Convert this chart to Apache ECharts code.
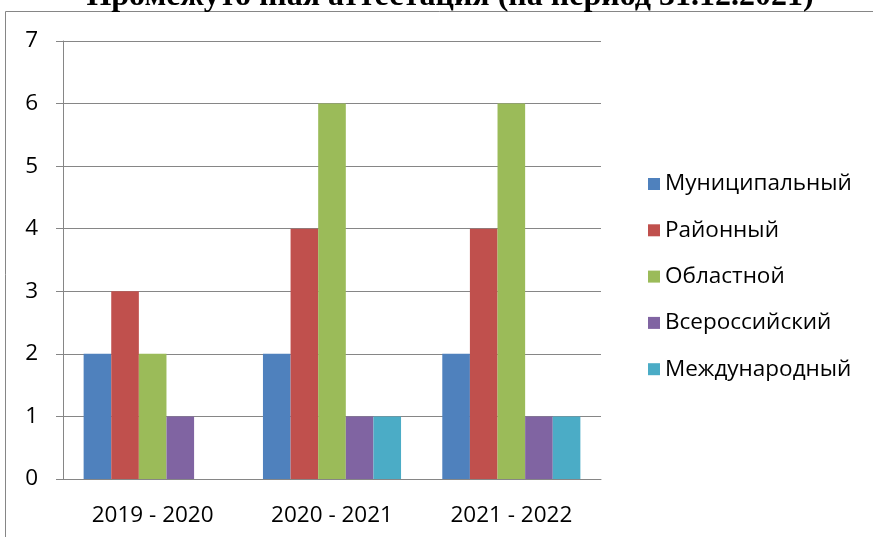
<!DOCTYPE html>
<html>
<head>
<meta charset="utf-8">
<script src="https://cdn.jsdelivr.net/npm/echarts@6/dist/echarts.min.js"></script>
<style>
  html, body { margin: 0; padding: 0; background: #fff; }
  #chart { width: 873px; height: 537px; }
</style>
</head>
<body>
<div id="chart"></div>
<script>
// данные диаграммы
const categories = ["2019 - 2020", "2020 - 2021", "2021 - 2022"];
const municipal = [2, 2, 2];
const district = [3, 4, 4];
const regional = [2, 6, 6];
const allRussian = [1, 1, 1];
const international = [null, 1, 1];
const seriesNames = ["Муниципальный", "Районный", "Областной", "Всероссийский", "Международный"];
const colors = ["#4F81BD", "#C0504D", "#9BBB59", "#8064A2", "#4BACC6"];

const chart = echarts.init(document.getElementById("chart"));
const gray = "#868686";
const font = "'Open Sans', 'Noto Sans', sans-serif";

const values = [municipal, district, regional, allRussian, international];

chart.setOption({
  animation: false,
  title: {
    text: "Промежуточная аттестация (на период 31.12.2021)",
    left: 445,
    textAlign: "center",
    top: -24,
    textStyle: { fontFamily: "'Liberation Serif', serif", fontSize: 32, fontWeight: "bold", color: "#000" }
  },
  graphic: [{
    type: "rect",
    shape: { x: 5.5, y: 11.5, width: 1000, height: 1000 },
    style: { fill: null, stroke: gray, lineWidth: 1 },
    silent: true
  }],
  legend: {
    orient: "vertical",
    left: 643,
    top: 163,
    itemWidth: 12,
    itemHeight: 12,
    itemGap: 14.3,
    icon: "rect",
    textStyle: { fontFamily: font, fontSize: 22.5, lineHeight: 32, color: "#000" },
    data: seriesNames
  },
  grid: { left: 63, right: 272, top: 41, bottom: 58 },
  xAxis: {
    type: "category",
    data: categories,
    axisLine: { lineStyle: { color: gray } },
    axisTick: { length: 7, lineStyle: { color: gray } },
    axisLabel: { color: "#000", fontFamily: font, fontSize: 22.5, margin: 25 }
  },
  yAxis: {
    type: "value",
    min: 0,
    max: 7,
    interval: 1,
    axisLine: { show: true, lineStyle: { color: gray } },
    axisTick: { show: true, length: 7, lineStyle: { color: gray } },
    axisLabel: { color: "#000", fontFamily: font, fontSize: 22.5, margin: 25 },
    splitLine: { lineStyle: { color: gray } }
  },
  series: seriesNames.map((name, i) => ({
    name: name,
    type: "bar",
    data: values[i],
    barGap: "0%",
    barCategoryGap: "23%",
    itemStyle: { color: colors[i] }
  }))
});
</script>
</body>
</html>
